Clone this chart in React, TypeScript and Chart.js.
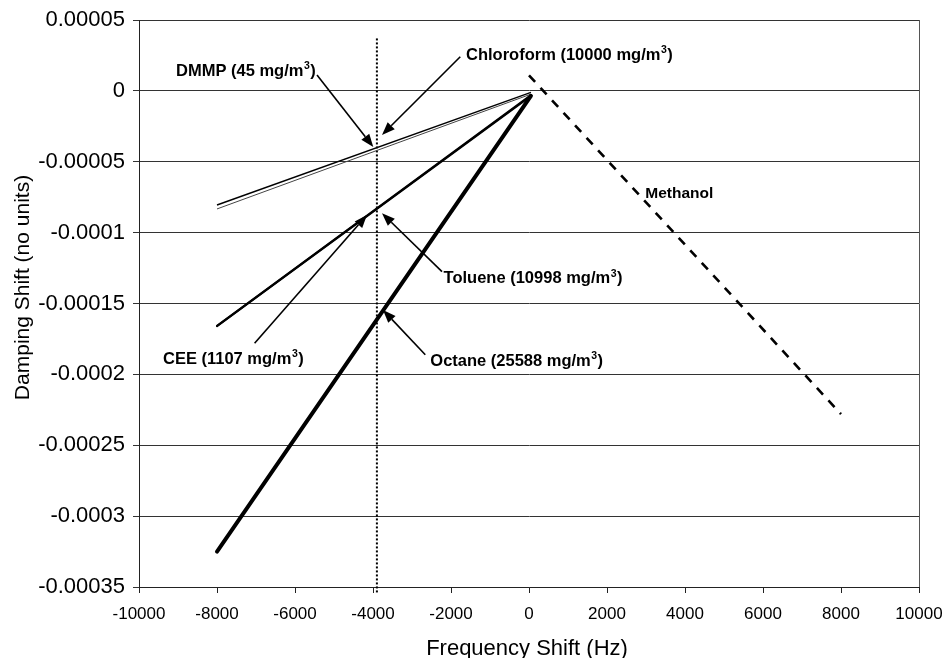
import React, { useEffect, useRef } from "react";
import { Chart, registerables } from "chart.js";

Chart.register(...registerables);

const FONT = "'Liberation Sans', Arial, Helvetica, sans-serif";

// Fitted response lines: frequency shift (Hz) vs damping shift
const octaneX = [-8000, 50];
const octaneY = [-0.000325, -0.0000035];
const ceeX = [-8000, 50];
const ceeY = [-0.0001658, -0.000003];
const tolueneX = [-8000, 50];
const tolueneY = [-0.000166, -0.0000035];
const chloroformX = [-8000, 50];
const chloroformY = [-0.0000805, -0.000001];
const dmmpX = [-8000, 50];
const dmmpY = [-0.0000833, -0.0000023];
const methanolX = [0, 8000];
const methanolY = [0.000011, -0.000228];

// Vertical reference line at the operating frequency shift
const markerX = [-3900, -3900];
const markerY = [0.000037, -0.000355];

const xTickValues = [-10000, -8000, -6000, -4000, -2000, 0, 2000, 4000, 6000, 8000, 10000];
const xTickLabels = ["-10000", "-8000", "-6000", "-4000", "-2000", "0", "2000", "4000", "6000", "8000", "10000"];
const yTickValues = [-0.00035, -0.0003, -0.00025, -0.0002, -0.00015, -0.0001, -0.00005, 0, 0.00005];
const yTickLabels = ["-0.00035", "-0.0003", "-0.00025", "-0.0002", "-0.00015", "-0.0001", "-0.00005", "0", "0.00005"];

// Callout labels (data coordinates: text baseline start, arrow tail, arrow tip)
const callouts = [
  { text: "DMMP (45 mg/m", sup: "3", close: ")", at: [-9051, 0.0000107], from: [-5436, 0.0000112], to: [-3992, -0.0000396], size: 16.5 },
  { text: "Chloroform (10000 mg/m", sup: "3", close: ")", at: [-1615, 0.0000218], from: [-1762, 0.0000241], to: [-3769, -0.0000311], size: 16.5 },
  { text: "Toluene (10998 mg/m", sup: "3", close: ")", at: [-2190, -0.0001357], from: [-2231, -0.0001275], to: [-3769, -0.0000863], size: 16.5 },
  { text: "Octane (25588 mg/m", sup: "3", close: ")", at: [-2531, -0.0001938], from: [-2659, -0.0001862], to: [-3744, -0.0001545], size: 16.5 },
  { text: "CEE (1107 mg/m", sup: "3", close: ")", at: [-9385, -0.0001926], from: [-7036, -0.000178], to: [-4154, -0.0000875], size: 16.5 },
  { text: "Methanol", sup: "", close: "", at: [2982, -0.0000757], from: null, to: null, size: 15.5 },
];

const pts = (xs: number[], ys: number[]) => xs.map((x, i) => ({ x, y: ys[i] }));

const framePlugin = {
  id: "frame",
  beforeDatasetsDraw(chart: any) {
    const { ctx, chartArea } = chart;
    ctx.save();
    ctx.strokeStyle = "#555";
    ctx.lineWidth = 1;
    ctx.beginPath();
    ctx.moveTo(Math.round(chartArea.right) + 0.5, chartArea.top);
    ctx.lineTo(Math.round(chartArea.right) + 0.5, chartArea.bottom);
    ctx.stroke();
    ctx.restore();
  },
  afterDraw(chart: any) {
    const { ctx, chartArea } = chart;
    ctx.save();
    ctx.fillStyle = "#000";
    ctx.font = `22px ${FONT}`;
    ctx.textAlign = "center";
    ctx.textBaseline = "alphabetic";
    ctx.fillText("Frequency Shift (Hz)", (chartArea.left + chartArea.right) / 2 - 2, 655);
    ctx.translate(29, (chartArea.top + chartArea.bottom) / 2 - 16);
    ctx.rotate(-Math.PI / 2);
    ctx.font = `21px ${FONT}`;
    ctx.fillText("Damping Shift (no units)", 0, 0);
    ctx.restore();
  },
};

const calloutPlugin = {
  id: "callouts",
  afterDatasetsDraw(chart: any) {
    const { ctx, scales } = chart;
    const px = (p: number[]) => [scales.x.getPixelForValue(p[0]), scales.y.getPixelForValue(p[1])];
    ctx.save();
    ctx.fillStyle = "#000";
    ctx.strokeStyle = "#000";
    for (const c of callouts) {
      const [tx, ty] = px(c.at);
      ctx.textAlign = "left";
      ctx.textBaseline = "alphabetic";
      ctx.font = `bold ${c.size}px ${FONT}`;
      ctx.fillText(c.text, tx, ty);
      let cx = tx + ctx.measureText(c.text).width;
      if (c.sup) {
        ctx.font = `bold 10.5px ${FONT}`;
        ctx.fillText(c.sup, cx + 0.5, ty - 6.5);
        cx += ctx.measureText(c.sup).width + 1;
        ctx.font = `bold ${c.size}px ${FONT}`;
        ctx.fillText(c.close, cx, ty);
      }
      if (c.from && c.to) {
        const [x0, y0] = px(c.from);
        const [x1, y1] = px(c.to);
        const ang = Math.atan2(y1 - y0, x1 - x0);
        const hl = 13;
        const hw = 5;
        const bx = x1 - hl * Math.cos(ang);
        const by = y1 - hl * Math.sin(ang);
        ctx.lineWidth = 1.6;
        ctx.beginPath();
        ctx.moveTo(x0, y0);
        ctx.lineTo(bx, by);
        ctx.stroke();
        ctx.beginPath();
        ctx.moveTo(x1, y1);
        ctx.lineTo(bx + hw * Math.sin(ang), by - hw * Math.cos(ang));
        ctx.lineTo(bx - hw * Math.sin(ang), by + hw * Math.cos(ang));
        ctx.closePath();
        ctx.fill();
      }
    }
    ctx.restore();
  },
};

export default function App() {
  const canvasRef = useRef<HTMLCanvasElement | null>(null);

  useEffect(() => {
    const canvas = canvasRef.current;
    if (!canvas) return;
    const line = (label: string, xs: number[], ys: number[], extra: any) => ({
      label,
      data: pts(xs, ys),
      showLine: true,
      pointRadius: 0,
      borderColor: "#000",
      backgroundColor: "#000",
      fill: false,
      tension: 0,
      ...extra,
    });
    const chart = new Chart(canvas, {
      type: "scatter",
      data: {
        datasets: [
          line("Octane", octaneX, octaneY, { borderWidth: 4, borderCapStyle: "round" }),
          line("CEE", ceeX, ceeY, { borderWidth: 2, borderCapStyle: "round" }),
          line("Toluene", tolueneX, tolueneY, { borderWidth: 2, borderCapStyle: "round" }),
          line("Chloroform", chloroformX, chloroformY, { borderWidth: 1.4 }),
          line("DMMP", dmmpX, dmmpY, { borderWidth: 1, borderColor: "#444" }),
          line("Methanol", methanolX, methanolY, { borderWidth: 2.6, borderDash: [9, 8] }),
          line("Reference", markerX, markerY, { borderWidth: 2, borderDash: [2, 2], clip: false }),
        ],
      },
      options: {
        animation: false,
        responsive: false,
        maintainAspectRatio: false,
        layout: { padding: { top: 20, right: 25, left: 0, bottom: 0 } },
        plugins: {
          legend: { display: false },
          tooltip: { enabled: false },
          title: { display: false },
        },
        scales: {
          x: {
            type: "linear",
            position: "bottom",
            min: -10000,
            max: 10000,
            afterBuildTicks: (s: any) => {
              s.ticks = xTickValues.map((v) => ({ value: v }));
            },
            afterFit: (s: any) => {
              s.height = 71;
              s.paddingLeft = 0;
              s.paddingRight = 25;
            },
            ticks: {
              callback: (_v: any, i: number) => xTickLabels[i],
              font: { family: FONT, size: 17 },
              color: "#000",
              padding: 11,
              maxRotation: 0,
              autoSkip: false,
            },
            grid: { drawOnChartArea: false, drawTicks: true, tickLength: 6, color: "#222" },
            border: { color: "#222", width: 1 },
          },
          y: {
            type: "linear",
            min: -0.00035,
            max: 0.00005,
            afterBuildTicks: (s: any) => {
              s.ticks = yTickValues.map((v) => ({ value: v }));
            },
            afterFit: (s: any) => {
              s.width = 139;
              s.paddingTop = 20;
              s.paddingBottom = 0;
            },
            ticks: {
              callback: (_v: any, i: number) => yTickLabels[i],
              font: { family: FONT, size: 22 },
              color: "#000",
              padding: 8,
              autoSkip: false,
            },
            grid: { drawOnChartArea: true, drawTicks: true, tickLength: 6, color: "#333", lineWidth: 1 },
            border: { color: "#222", width: 1 },
          },
        },
      } as any,
      plugins: [framePlugin, calloutPlugin],
    });
    return () => chart.destroy();
  }, []);

  return (
    <div style={{ position: "fixed", left: 0, top: 0, width: 944, height: 658, background: "#fff" }}>
      <canvas ref={canvasRef} width={944} height={658} style={{ display: "block" }} />
    </div>
  );
}
